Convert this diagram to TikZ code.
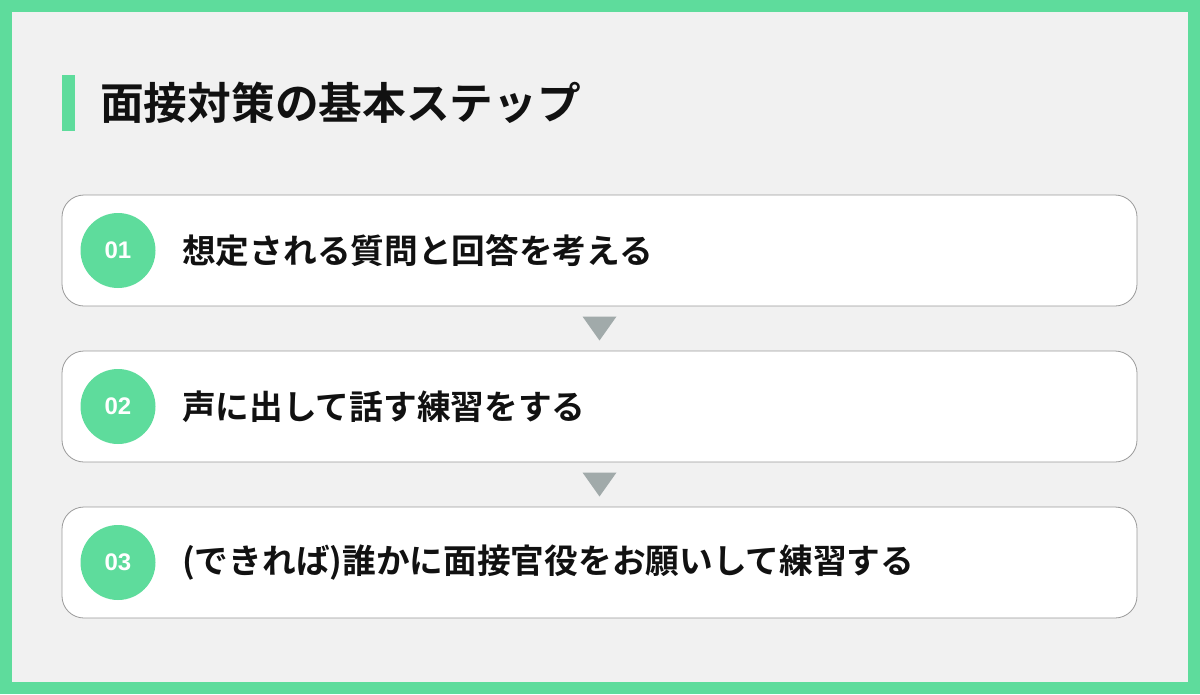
\documentclass[tikz,border=0pt]{standalone}
\usepackage{fontspec}
\setmainfont{Noto Sans CJK JP}[BoldFont={Noto Sans CJK JP Bold}]
\newfontfamily\numfont{Liberation Sans}[BoldFont={Liberation Sans Bold}]
\usetikzlibrary{positioning,calc}
\definecolor{framegreen}{HTML}{5EDC9C}
\definecolor{pagegray}{HTML}{F1F1F1}
\definecolor{cardline}{HTML}{9A9A9A}
\definecolor{pointgray}{HTML}{A1AAAA}
\definecolor{inkcolor}{HTML}{111111}

\tikzset{
  stepcard/.style={draw=cardline, line width=0.8pt, fill=white, rounded corners=22pt,
    minimum width=1075pt, minimum height=111pt, inner sep=0pt},
  numdot/.style={circle, fill=framegreen, minimum size=75pt, inner sep=0pt,
    text=white, font=\numfont\bfseries\fontsize{24}{24}\selectfont},
  steptext/.style={anchor=west, inner sep=0pt, text=inkcolor,
    font=\fontsize{33.7}{34}\selectfont\bfseries}
}

\begin{document}
\begin{tikzpicture}[x=1pt,y=-1pt]
\useasboundingbox (0,0) rectangle (1200,694);
\fill[framegreen] (0,0) rectangle (1200,694);
\fill[pagegray] (12,12) rectangle (1188,682);
% title
\fill[framegreen] (62,75) rectangle (75,131);
\node[anchor=west, inner sep=0pt, text=inkcolor, font=\fontsize{43.7}{44}\selectfont\bfseries] (title) at (100,103) {面接対策の基本ステップ};
% steps
\node[stepcard] (s1) at (599.5,250.5) {};
\node[stepcard] (s2) at (599.5,406.5) {};
\node[stepcard] (s3) at (599.5,562.5) {};
\node[numdot] (n1) at (118,250.5) {01};
\node[numdot] (n2) at (118,406.5) {02};
\node[numdot] (n3) at (118,562.5) {03};
\node[steptext] (t1) at (182,250.5) {想定される質問と回答を考える};
\node[steptext] (t2) at (182,406.5) {声に出して話す練習をする};
\node[steptext] (t3) at (182,562.5) {(できれば)誰かに面接官役をお願いして練習する};
% markers between cards
\coordinate (m1) at ($(s1.south)!0.5!(s2.north)$);
\coordinate (m2) at ($(s2.south)!0.5!(s3.north)$);
\fill[pointgray] ($(m1)+(-17,-12)$) -- ($(m1)+(17,-12)$) -- ($(m1)+(0,12)$) -- cycle;
\fill[pointgray] ($(m2)+(-17,-12)$) -- ($(m2)+(17,-12)$) -- ($(m2)+(0,12)$) -- cycle;
\end{tikzpicture}
\end{document}
